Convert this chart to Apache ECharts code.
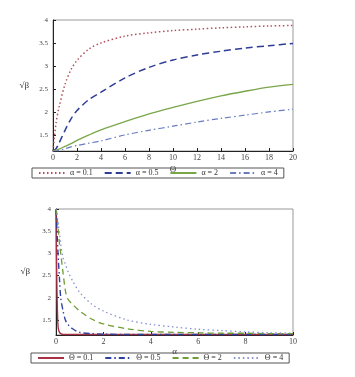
<!DOCTYPE html>
<html><head><meta charset="utf-8">
<script src="https://cdn.jsdelivr.net/npm/echarts@6/dist/echarts.min.js"></script>
<style>html,body{margin:0;padding:0;background:#fff}#c{width:355px;height:377px}</style>
</head><body><div id="c"></div>
<script>
// ---- Top chart: sqrt(beta) vs Theta for several alpha ----
const topX = [0, 0.25, 0.5, 1, 1.5, 2, 3, 4, 6, 8, 10, 12, 14, 16, 18, 20];
const topA01 = [1.15, 1.75, 2.1, 2.6, 2.92, 3.12, 3.37, 3.5, 3.65, 3.72, 3.77, 3.8, 3.83, 3.85, 3.87, 3.88];
const topA05 = [1.15, 1.2, 1.32, 1.6, 1.85, 2.03, 2.27, 2.43, 2.74, 2.97, 3.13, 3.24, 3.32, 3.39, 3.44, 3.49];
const topA2  = [1.15, 1.17, 1.19, 1.25, 1.31, 1.38, 1.5, 1.61, 1.79, 1.96, 2.1, 2.23, 2.35, 2.45, 2.54, 2.6];
const topA4  = [1.15, 1.15, 1.16, 1.2, 1.24, 1.27, 1.32, 1.37, 1.5, 1.6, 1.69, 1.78, 1.86, 1.93, 2.0, 2.06];
const topNames = ['α = 0.1', 'α = 0.5', 'α = 2', 'α = 4'];
const topXTicks = [0, 2, 4, 6, 8, 10, 12, 14, 16, 18, 20];
const yTicks = [1.5, 2, 2.5, 3, 3.5, 4];

// ---- Bottom chart: sqrt(beta) vs alpha for several Theta ----
const botX  = [0, 0.02, 0.04, 0.06, 0.08, 0.1, 0.15, 0.2, 0.3, 0.4, 0.5, 0.7, 1, 1.5, 2, 3, 4, 5, 6, 7, 8, 9, 10];
const botT01 = [4, 3.0, 2.2, 1.7, 1.42, 1.3, 1.22, 1.19, 1.17, 1.17, 1.17, 1.17, 1.17, 1.17, 1.17, 1.17, 1.17, 1.17, 1.17, 1.17, 1.17, 1.17, 1.17];
const botT05 = [4, 3.8, 3.55, 3.3, 3.05, 2.85, 2.4, 2.0, 1.7, 1.49, 1.4, 1.3, 1.22, 1.19, 1.18, 1.17, 1.17, 1.17, 1.17, 1.17, 1.17, 1.17, 1.17];
const botT2  = [4, 3.95, 3.85, 3.75, 3.62, 3.5, 3.2, 3.0, 2.55, 2.15, 1.97, 1.85, 1.7, 1.52, 1.41, 1.3, 1.24, 1.22, 1.21, 1.2, 1.2, 1.19, 1.19];
const botT4  = [4, 3.97, 3.9, 3.8, 3.72, 3.63, 3.45, 3.2, 2.9, 2.75, 2.6, 2.38, 2.12, 1.86, 1.7, 1.5, 1.4, 1.34, 1.29, 1.26, 1.23, 1.21, 1.2];
const botNames = ['Θ = 0.1', 'Θ = 0.5', 'Θ = 2', 'Θ = 4'];
const botXTicks = [0, 2, 4, 6, 8, 10];

const FONT = 'Liberation Serif';
const pairs = (xs, ys) => xs.map((x, i) => [x, ys[i]]);

function xAxisCfg(gi, max, ticks, name, gap) {
  return {
    type: 'value', gridIndex: gi, min: 0, max: max, name: name,
    nameLocation: 'middle', nameGap: gap,
    nameTextStyle: {fontFamily: FONT, fontSize: 9, color: '#333'},
    axisLine: {show: true, onZero: false, lineStyle: {color: '#222', width: 1}},
    axisTick: {show: true, customValues: ticks, length: 3, inside: true, lineStyle: {color: '#222'}},
    axisLabel: {customValues: ticks, fontFamily: FONT, fontSize: 8, color: '#444', margin: 3},
    splitLine: {show: false}
  };
}
function yAxisCfg(gi, min, name, gap) {
  return {
    type: 'value', gridIndex: gi, min: min, max: 4, name: name,
    nameLocation: 'middle', nameRotate: 0, nameGap: gap,
    nameTextStyle: {fontFamily: FONT, fontSize: 9, color: '#333'},
    axisLine: {show: true, onZero: false, lineStyle: {color: '#222', width: 1}},
    axisTick: {show: true, customValues: yTicks, length: 3, inside: true, lineStyle: {color: '#222'}},
    axisLabel: {customValues: yTicks, fontFamily: FONT, fontSize: 7, color: '#444', margin: 5},
    splitLine: {show: false}
  };
}
function line(name, gi, xs, ys, color, type, width) {
  return {
    name: name, type: 'line', xAxisIndex: gi, yAxisIndex: gi,
    data: pairs(xs, ys), symbol: 'none', smooth: 0.3, animation: false,
    lineStyle: {color: color, type: type, width: width || 1.3},
    itemStyle: {color: color}
  };
}
const legendCommon = {
  itemWidth: 26, itemHeight: 6, itemGap: 11, padding: [1, 6],
  borderColor: '#555', borderWidth: 1,
  itemStyle: {opacity: 0},
  textStyle: {fontFamily: FONT, fontSize: 8, color: '#333'}
};

const chart = echarts.init(document.getElementById('c'), null, {renderer: 'canvas'});
chart.setOption({
  backgroundColor: '#fff',
  animation: false,
  grid: [
    {left: 53, right: 62, top: 20, height: 131, show: true, borderColor: '#999', borderWidth: 1},
    {left: 56, right: 62, top: 209, height: 126, show: true, borderColor: '#999', borderWidth: 1}
  ],
  xAxis: [xAxisCfg(0, 20, topXTicks, 'Θ', 14), xAxisCfg(1, 10, botXTicks, 'α', 12)],
  yAxis: [yAxisCfg(0, 1.15, '√β', 24), yAxisCfg(1, 1.16, '√β', 26)],
  legend: [
    Object.assign({data: topNames, left: 32, top: 168, width: 250}, legendCommon),
    Object.assign({data: botNames, left: 31, top: 353, width: 260}, legendCommon)
  ],
  series: [
    line(topNames[0], 0, topX, topA01, '#b4505c', [1.5, 2.5], 1.5),
    line(topNames[1], 0, topX, topA05, '#2f3d96', [7, 4], 1.5),
    line(topNames[2], 0, topX, topA2, '#7aa64a', 'solid', 1.3),
    line(topNames[3], 0, topX, topA4, '#6a7cc0', [6, 3, 1.5, 3], 1.2),
    line(botNames[0], 1, botX, botT01, '#a83244', 'solid', 1.4),
    line(botNames[1], 1, botX, botT05, '#2d3fa0', [6, 3, 1.5, 3], 1.4),
    line(botNames[2], 1, botX, botT2, '#6f9c34', [6, 4], 1.3),
    line(botNames[3], 1, botX, botT4, '#8890d0', [1.5, 3], 1.3)
  ]
});
</script></body></html>
